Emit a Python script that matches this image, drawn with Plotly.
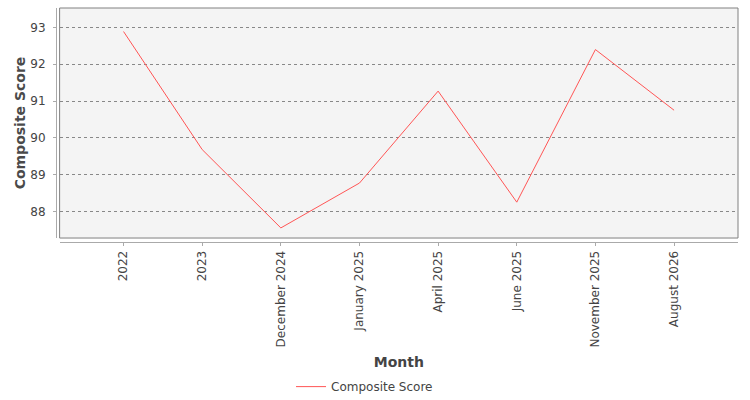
import plotly.graph_objects as go

months = ["2022", "2023", "December 2024", "January 2025", "April 2025", "June 2025", "November 2025", "August 2026"]
scores = [92.89, 89.68, 87.55, 88.77, 91.27, 88.25, 92.40, 90.75]

fig = go.Figure()
fig.add_trace(go.Scatter(x=list(range(len(months))), y=scores, mode="lines",
                         name="Composite Score", line=dict(color="#ff5555", width=1)))

fig.update_layout(
    width=750, height=400,
    margin=dict(l=56, r=12, t=8, b=158, autoexpand=False),
    paper_bgcolor="white", plot_bgcolor="#f4f4f4",
    font=dict(family="DejaVu Sans", size=12, color="#444444"),
    showlegend=True,
    legend=dict(orientation="h", x=0.3446, xanchor="left", y=-0.618, yanchor="middle",
                font=dict(size=12, color="#444444")),
    xaxis=dict(
        domain=[0.0053, 1], anchor="free", position=0,
        tickmode="array", tickvals=list(range(len(months))), ticktext=months,
        range=[-0.813, 7.813], tickangle=-90, showgrid=False, zeroline=False,
        showline=True, linecolor="#aaaaaa", linewidth=1, automargin=False,
        ticks="outside", ticklen=3, tickcolor="#aaaaaa",
        title=dict(text="<b>Month</b>", font=dict(size=14, color="#444444"), standoff=10),
    ),
    yaxis=dict(
        domain=[0.017, 1], anchor="free", position=0,
        range=[87.275, 93.53], tickvals=[88, 89, 90, 91, 92, 93],
        showgrid=True, gridcolor="#888888", griddash="dot", gridwidth=1, zeroline=False,
        showline=True, linecolor="#aaaaaa", linewidth=1, automargin=False,
        ticks="outside", ticklen=3, tickcolor="#aaaaaa", ticklabelstandoff=5,
        title=dict(text="<b>Composite Score</b>", font=dict(size=14, color="#4a4a4a"), standoff=0),
    ),
)

fig.add_shape(type="rect", xref="x domain", yref="y domain", x0=0, x1=1, y0=0, y1=1,
              line=dict(color="#808080", width=1), layer="above")

fig.write_html("out.html", config={"displayModeBar": False},
               post_script="document.body.style.margin='0';document.body.style.padding='0';")
